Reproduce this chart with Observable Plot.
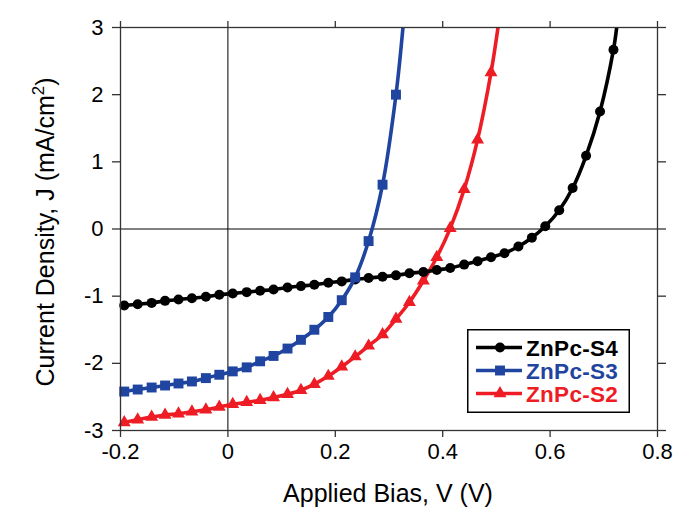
<!DOCTYPE html>
<html><head><meta charset="utf-8">
<script src="https://cdn.jsdelivr.net/npm/d3@7"></script>
<script src="https://cdn.jsdelivr.net/npm/@observablehq/plot@0.6"></script>
<style>
body{margin:0;background:#fff;}
#wrap{position:relative;width:676px;height:508px;font-family:"Liberation Sans",Arial,sans-serif;}
#legend{position:absolute;left:467px;top:329px;width:163px;height:84px;}
</style></head><body><div id="wrap"><div id="legend"></div></div>
<script>
// Applied bias grid (V) at marker positions
const V = [-0.193,-0.168,-0.142,-0.117,-0.092,-0.067,-0.041,-0.016,0.009,0.035,0.060,0.085,0.111,0.136,0.161,0.187,0.212,0.237,0.262,0.288,0.313,0.338,0.364,0.389,0.414,0.440,0.465,0.490,0.515,0.541,0.566,0.591,0.617,0.642,0.667,0.693,0.718];
// Current density (mA/cm^2)
const jS4 = [-1.14,-1.12,-1.10,-1.07,-1.05,-1.03,-1.01,-0.98,-0.96,-0.94,-0.92,-0.90,-0.87,-0.85,-0.83,-0.80,-0.78,-0.75,-0.73,-0.71,-0.69,-0.66,-0.64,-0.61,-0.58,-0.53,-0.48,-0.42,-0.36,-0.26,-0.13,0.04,0.28,0.61,1.09,1.75,2.67];
const jS3 = [-2.42,-2.39,-2.36,-2.33,-2.30,-2.27,-2.22,-2.17,-2.12,-2.06,-1.97,-1.89,-1.78,-1.65,-1.50,-1.31,-1.06,-0.72,-0.18,0.66,2.00];
const jS2 = [-2.88,-2.84,-2.80,-2.77,-2.75,-2.72,-2.69,-2.65,-2.61,-2.58,-2.55,-2.51,-2.46,-2.40,-2.31,-2.19,-2.05,-1.90,-1.74,-1.57,-1.34,-1.09,-0.77,-0.42,0.01,0.59,1.33,2.33];
// where each fitted curve leaves the top of the frame (V at J = 3)
const exitV = {"ZnPc-S4":0.724, "ZnPc-S3":0.326, "ZnPc-S2":0.503};
const exitJ = 3;

const seriesNames = ["ZnPc-S4","ZnPc-S3","ZnPc-S2"];
const seriesColors = ["#000000","#1f45a0","#ee1c25"];
const seriesSymbols = ["circle","square","triangle"];
const seriesR = [5,5.6,4.8];
const seriesJ = [jS4, jS3, jS2];

const xTicks = [-0.2,0,0.2,0.4,0.6,0.8];
const xTickLabels = ["-0.2","0","0.2","0.4","0.6","0.8"];
const yTicks = [-3,-2,-1,0,1,2,3];
const yTickLabels = ["-3","-2","-1","0","1","2","3"];

const pts = seriesNames.map((s,i)=>seriesJ[i].map((j,k)=>({V:V[k], J:j, s})));
const lines = pts.map((p,i)=>p.concat([{V:exitV[seriesNames[i]], J:exitJ, s:seriesNames[i]}]));

const drawOrder = [2,0,1];
const seriesMarks = [];
for (const i of drawOrder) {
  seriesMarks.push(Plot.line(lines[i], {x:"V", y:"J", stroke:seriesColors[i], strokeWidth:3.6, curve:"catmull-rom", clip:true}));
  seriesMarks.push(Plot.dot(pts[i], {x:"V", y:"J", fill:seriesColors[i], stroke:"none", symbol:seriesSymbols[i], r:seriesR[i]}));
}

const plot = Plot.plot({
  width:676, height:508,
  marginLeft:120, marginRight:19, marginTop:27, marginBottom:78,
  style:{fontFamily:"'Liberation Sans', Arial, sans-serif", fontSize:"22px", color:"#000", background:"#fff", overflow:"visible"},
  x:{domain:[-0.2,0.8]},
  y:{domain:[-3,3]},
  marks:[
    Plot.ruleX([0],{stroke:"#000", strokeWidth:1}),
    Plot.ruleY([0],{stroke:"#000", strokeWidth:1}),
    Plot.axisX({anchor:"bottom", ticks:xTicks, tickFormat:d=>xTickLabels[xTicks.indexOf(d)], tickSize:7, tickPadding:6, label:null, stroke:"#333", strokeWidth:1.3}),
    Plot.axisX({anchor:"top", ticks:xTicks, tickFormat:()=>"", tickSize:7, label:null, stroke:"#333", strokeWidth:1.3}),
    Plot.axisY({anchor:"left", ticks:yTicks, tickFormat:d=>yTickLabels[yTicks.indexOf(d)], tickSize:8, tickPadding:9, label:null, stroke:"#333", strokeWidth:1.3}),
    Plot.axisY({anchor:"right", ticks:yTicks, tickFormat:()=>"", tickSize:8, label:null, stroke:"#333", strokeWidth:1.3}),
    ...seriesMarks,
    Plot.frame({stroke:"#333", strokeWidth:1.3})
  ]
});

const svg = d3.select(plot);
svg.append("text").attr("x",388).attr("y",502).attr("text-anchor","middle")
  .style("font-size","25px").attr("fill","#000").text("Applied Bias, V (V)");
const yt = svg.append("text").attr("transform","translate(54,232) rotate(-90)").attr("text-anchor","middle")
  .style("font-size","25px").attr("fill","#000");
yt.append("tspan").text("Current Density, J (mA/cm");
yt.append("tspan").attr("dy",-10).style("font-size","17px").text("2");
yt.append("tspan").attr("dy",10).text(")");

document.getElementById("wrap").insertBefore(plot, document.getElementById("legend"));

// legend (inside the plot frame)
const lg = d3.select("#legend").append("svg").attr("width",163).attr("height",84);
lg.append("rect").attr("x",0.75).attr("y",0.75).attr("width",161.5).attr("height",82.5).attr("fill","#fff").attr("stroke","#000").attr("stroke-width",1.5);
seriesNames.forEach((s,i)=>{
  const cy = 18.5 + i*23;
  lg.append("line").attr("x1",9).attr("x2",55).attr("y1",cy).attr("y2",cy).attr("stroke",seriesColors[i]).attr("stroke-width",3.6);
  lg.append("path").attr("transform",`translate(33,${cy})`)
    .attr("d", d3.symbol(seriesSymbols[i]==="circle"?d3.symbolCircle:seriesSymbols[i]==="square"?d3.symbolSquare:d3.symbolTriangle, Math.PI*seriesR[i]*seriesR[i])())
    .attr("fill",seriesColors[i]);
  lg.append("text").attr("x",59).attr("y",cy+8).attr("fill",seriesColors[i])
    .style("font-family","'Liberation Sans', Arial, sans-serif").style("font-size","22.5px").style("font-weight","bold")
    .style("letter-spacing","0.3px").text(s);
});
</script>
</body></html>
